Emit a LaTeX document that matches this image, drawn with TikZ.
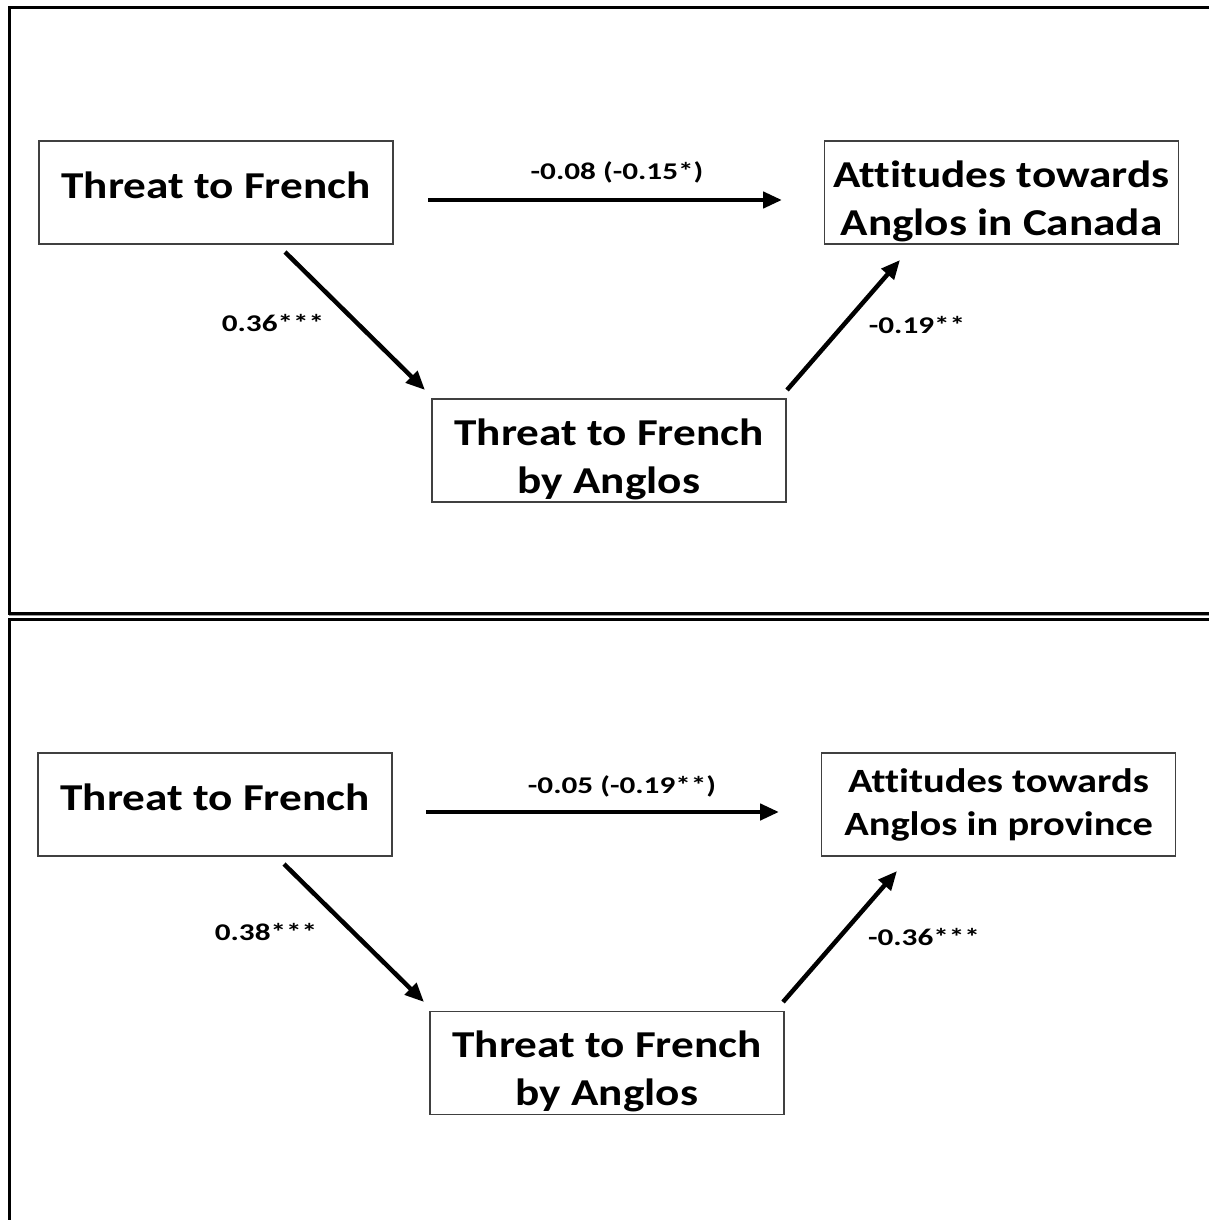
\documentclass[tikz,border=0pt]{standalone}
\usepackage{fontspec}
\setmainfont{Carlito}[Ligatures=NoCommon]
\newfontfamily\boxfont{Carlito}[Ligatures=NoCommon,FakeStretch=1.19]
\newfontfamily\coeffont{Carlito}[Ligatures=NoCommon,FakeStretch=1.3]
\usepackage{tikz}
\usetikzlibrary{positioning,arrows.meta}
\newcommand\lowstrut{\rule{0pt}{44pt}}

\tikzset{
  varbox/.style={draw=black!75,line width=1.2pt,minimum width=354pt,minimum height=103pt,inner sep=0pt,align=center,font=\fontsize{38}{48}\selectfont\boxfont\bfseries},
  effect/.style={line width=4.5pt,-{Triangle[length=19pt,width=16pt]}},
  coef/.style={inner sep=0pt,font=\fontsize{24}{28}\selectfont\coeffont\bfseries},
  panel/.style={line width=3pt}
}

\begin{document}
\begin{tikzpicture}[x=1pt,y=-1pt]
\useasboundingbox (0,0) rectangle (1209,1220);
% panel frames
\draw[panel] (1215,8) -- (9,8) -- (9,613) -- (1215,613);
\draw[black!40,thin] (9,615.5) -- (1215,615.5);
\draw[panel] (1215,619) -- (9,619) -- (9,1225);

% top panel
\node[varbox,text depth=14pt] (tf1) at (216,192.5) {Threat to French};
\node[varbox] (att1) at (1001.5,192.5) {\lowstrut Attitudes towards\\Anglos in Canada};
\node[varbox] (tfa1) at (609,450.5) {\lowstrut Threat to French\\by Anglos};
\coordinate (tf1out) at (428,200);
\coordinate (att1in) at (782,200);
\coordinate (tf1down) at (285,252);
\coordinate (tfa1in) at (425,390);
\coordinate (tfa1out) at (787,390);
\coordinate (att1up) at (900,260);
\draw[effect] (tf1out) -- (att1in);
\draw[effect] (tf1down) -- (tfa1in);
\draw[effect] (tfa1out) -- (att1up);
\node[coef] (c1) at (617,172) {-0.08 (-0.15*)};
\node[coef] (a1) at (273,323) {0.36***};
\node[coef] (b1) at (917,325) {-0.19**};

% bottom panel
\node[varbox,text depth=14pt] (tf2) at (215,804.5) {Threat to French};
\node[varbox,font=\fontsize{34}{43}\selectfont\boxfont\bfseries] (att2) at (998.5,804.5) {Attitudes towards\\Anglos in province};
\node[varbox] (tfa2) at (607,1063) {\lowstrut Threat to French\\by Anglos};
\coordinate (tf2out) at (426,812);
\coordinate (att2in) at (779,812);
\coordinate (tf2down) at (284,864);
\coordinate (tfa2in) at (424,1002);
\coordinate (tfa2out) at (783,1002);
\coordinate (att2up) at (897,871);
\draw[effect] (tf2out) -- (att2in);
\draw[effect] (tf2down) -- (tfa2in);
\draw[effect] (tfa2out) -- (att2up);
\node[coef] (c2) at (622,786) {-0.05 (-0.19**)};
\node[coef] (a2) at (266,932) {0.38***};
\node[coef] (b2) at (924,937) {-0.36***};
\end{tikzpicture}
\end{document}
